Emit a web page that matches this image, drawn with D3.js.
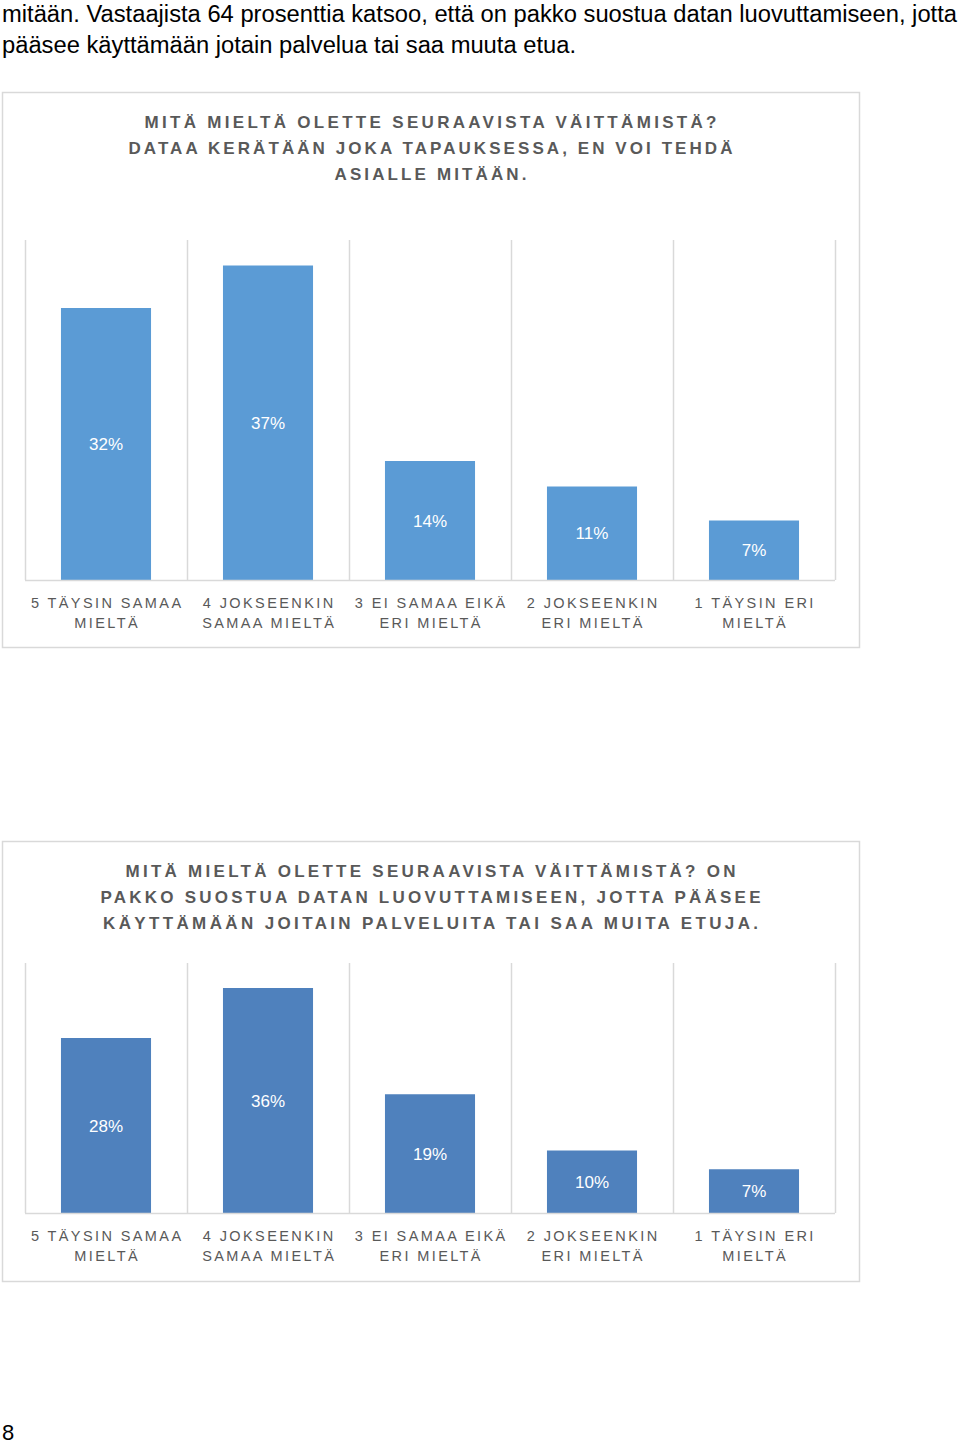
<!DOCTYPE html>
<html>
<head>
<meta charset="utf-8">
<script src="https://cdn.jsdelivr.net/npm/d3@7"></script>
<style>
  html, body { margin: 0; padding: 0; background: #fff; }
  svg { display: block; font-family: "Liberation Sans", Arial, sans-serif; }
</style>
</head>
<body>
<svg id="page" width="960" height="1444"></svg>
<script>
// ---- data ----
const categories = [
  ["5 TÄYSIN SAMAA", "MIELTÄ"],
  ["4 JOKSEENKIN", "SAMAA MIELTÄ"],
  ["3 EI SAMAA EIKÄ", "ERI MIELTÄ"],
  ["2 JOKSEENKIN", "ERI MIELTÄ"],
  ["1 TÄYSIN ERI", "MIELTÄ"]
];
const values1 = [32, 37, 14, 11, 7];
const values2 = [28, 36, 19, 10, 7];
const title1 = [
  "MITÄ MIELTÄ OLETTE SEURAAVISTA VÄITTÄMISTÄ?",
  "DATAA KERÄTÄÄN JOKA TAPAUKSESSA, EN VOI TEHDÄ",
  "ASIALLE MITÄÄN."
];
const title2 = [
  "MITÄ MIELTÄ OLETTE SEURAAVISTA VÄITTÄMISTÄ? ON",
  "PAKKO SUOSTUA DATAN LUOVUTTAMISEEN, JOTTA PÄÄSEE",
  "KÄYTTÄMÄÄN JOITAIN PALVELUITA TAI SAA MUITA ETUJA."
];
const paragraph = [
  "mitään. Vastaajista 64 prosenttia katsoo, että on pakko suostua datan luovuttamiseen, jotta",
  "pääsee käyttämään jotain palvelua tai saa muuta etua."
];
const pageNumber = "8";

// ---- drawing ----
const svg = d3.select("#page");

// paragraph text
const para = svg.append("g");
const paraLens = [955, 574];
paragraph.forEach((line, i) => {
  para.append("text")
    .attr("x", 2).attr("y", 22 + i * 31)
    .attr("font-size", 23)
    .attr("fill", "#000")
    .attr("textLength", paraLens[i])
    .attr("lengthAdjust", "spacingAndGlyphs")
    .text(line);
});

function drawChart(cfg) {
  const g = svg.append("g");
  // outer frame
  g.append("rect")
    .attr("x", cfg.box[0] + 0.5).attr("y", cfg.box[1] + 0.5)
    .attr("width", cfg.box[2] - cfg.box[0]).attr("height", cfg.box[3] - cfg.box[1])
    .attr("fill", "#fff").attr("stroke", "#d9d9d9").attr("stroke-width", 1.5);

  // title
  cfg.title.forEach((line, i) => {
    g.append("text")
      .attr("x", 430.5).attr("y", cfg.titleY + i * 26)
      .attr("text-anchor", "middle")
      .attr("font-size", 17).attr("font-weight", "bold")
      .attr("fill", "#595959")
      .attr("textLength", cfg.titleLens[i])
      .attr("lengthAdjust", "spacing")
      .text(line);
  });

  const x = d3.scaleBand()
    .domain(d3.range(categories.length))
    .range([25, 835])
    .paddingInner(0.444)
    .paddingOuter(0.222);
  const y = d3.scaleLinear().domain([0, 40]).range([cfg.base, cfg.top]);
  const step = x.step();

  // vertical gridlines at category boundaries
  const bounds = d3.range(categories.length + 1).map(i => 25 + i * step);
  g.selectAll(".grid").data(bounds).enter().append("line")
    .attr("x1", d => Math.round(d) + 0.5).attr("x2", d => Math.round(d) + 0.5)
    .attr("y1", cfg.top).attr("y2", cfg.base)
    .attr("stroke", "#d9d9d9").attr("stroke-width", 1.5);

  // bars
  g.selectAll(".bar").data(cfg.values).enter().append("rect")
    .attr("x", (d, i) => x(i))
    .attr("y", d => y(d))
    .attr("width", x.bandwidth())
    .attr("height", d => y(0) - y(d))
    .attr("fill", cfg.color);

  // baseline
  g.append("line")
    .attr("x1", 25).attr("x2", 835)
    .attr("y1", cfg.base + 0.5).attr("y2", cfg.base + 0.5)
    .attr("stroke", "#d9d9d9").attr("stroke-width", 1.5);

  // data labels
  g.selectAll(".lbl").data(cfg.values).enter().append("text")
    .attr("x", (d, i) => x(i) + x.bandwidth() / 2)
    .attr("y", d => (y(d) + y(0)) / 2)
    .attr("dy", "0.36em")
    .attr("text-anchor", "middle")
    .attr("font-size", 17)
    .attr("fill", "#fff")
    .text(d => d + "%");

  // category labels
  categories.forEach((lines, i) => {
    lines.forEach((line, j) => {
      g.append("text")
        .attr("x", x(i) + x.bandwidth() / 2 + 1.2)
        .attr("y", cfg.base + 28 + j * 20)
        .attr("text-anchor", "middle")
        .attr("font-size", 14.5)
        .attr("letter-spacing", "2.4px")
        .attr("fill", "#595959")
        .text(line);
    });
  });
}

drawChart({
  box: [2, 92, 859, 647],
  title: title1,
  titleLens: [572, 604, 192],
  titleY: 128,
  top: 240, base: 580,
  values: values1,
  color: "#5b9bd5"
});

drawChart({
  box: [2, 841, 859, 1281],
  title: title2,
  titleLens: [610, 660, 655],
  titleY: 877,
  top: 963, base: 1213,
  values: values2,
  color: "#4f81bd"
});

svg.append("text")
  .attr("x", 2).attr("y", 1440)
  .attr("font-size", 22)
  .attr("fill", "#000")
  .text(pageNumber);
</script>
</body>
</html>
